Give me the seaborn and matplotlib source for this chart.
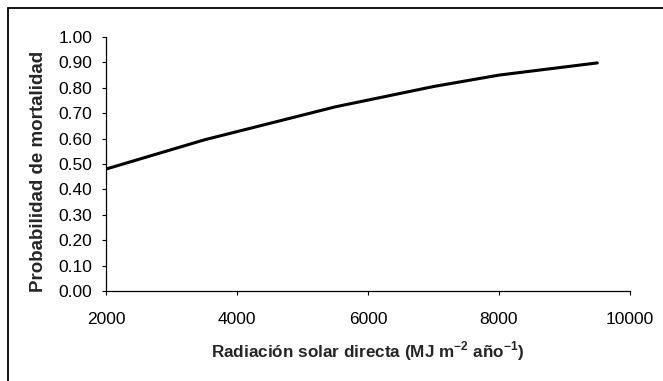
import pandas as pd
import seaborn as sns
import matplotlib.pyplot as plt
from matplotlib.patches import Rectangle

# valores
radiacion = [2000, 3500, 5500, 7000, 8000, 9500]
probabilidad = [0.48, 0.595, 0.725, 0.805, 0.85, 0.898]
xticks = [2000, 4000, 6000, 8000, 10000]
yticks = [0.0, 0.1, 0.2, 0.3, 0.4, 0.5, 0.6, 0.7, 0.8, 0.9, 1.0]


def main():
    sns.set_style('ticks')
    plt.rcParams['font.family'] = ['Liberation Sans', 'DejaVu Sans']
    plt.rcParams['mathtext.fontset'] = 'custom'
    plt.rcParams['mathtext.rm'] = 'Liberation Sans'
    plt.rcParams['mathtext.bf'] = 'Liberation Sans:bold'

    df = pd.DataFrame({'x': radiacion, 'y': probabilidad})

    fig = plt.figure(figsize=(6.63, 3.81), dpi=100)
    ax = fig.add_axes([106 / 663, 1 - 291 / 381, (630 - 106) / 663, (291 - 37) / 381])

    sns.lineplot(data=df, x='x', y='y', ax=ax, color='black', linewidth=2.2)

    ax.set_xlim(2000, 10000)
    ax.set_ylim(0, 1)
    ax.set_xticks(xticks)
    ax.set_xticklabels([str(t) for t in xticks])
    ax.set_yticks(yticks)
    ax.set_yticklabels(['%.2f' % t for t in yticks])

    sns.despine(ax=ax)
    for s in ['left', 'bottom']:
        ax.spines[s].set_linewidth(0.9)
        ax.spines[s].set_color('black')
    ax.tick_params(axis='both', length=3, width=0.8, colors='black', labelsize=12.5)
    ax.tick_params(axis='x', pad=12)
    ax.tick_params(axis='y', pad=7)

    ax.set_xlabel(r'Radiación solar directa (MJ m$^{\mathbf{-2}}$ año$^{\mathbf{-1}}$)',
                  fontsize=12.3, fontweight='bold', labelpad=9)
    ax.set_ylabel('Probabilidad de mortalidad', fontsize=13.5, fontweight='bold')
    # posicion de la etiqueta y un poco mas abajo, como en el original
    ax.yaxis.set_label_coords(-0.113, 0.47)

    # marco exterior del grafico
    fig.patches.append(Rectangle((8 / 663, -0.2), 1.2, 1.2 - 8 / 381, transform=fig.transFigure,
                                 fill=False, edgecolor='black', linewidth=1.3))

    fig.savefig('out.png', dpi=100)


if __name__ == '__main__':
    main()
